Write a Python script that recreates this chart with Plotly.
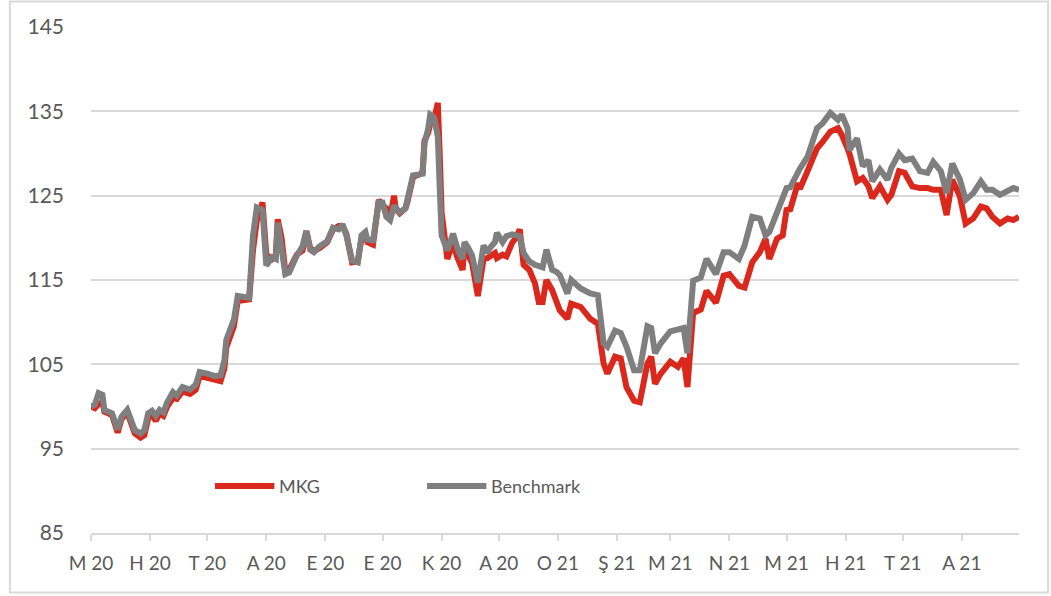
import plotly.graph_objects as go

dates = [
    "2020-05-01", "2020-05-03", "2020-05-05", "2020-05-07", "2020-05-08", "2020-05-12", "2020-05-15",
    "2020-05-17", "2020-05-20", "2020-05-22", "2020-05-24", "2020-05-27", "2020-05-29", "2020-05-31",
    "2020-06-02", "2020-06-04", "2020-06-06", "2020-06-08", "2020-06-10", "2020-06-13", "2020-06-15",
    "2020-06-18", "2020-06-22", "2020-06-25", "2020-06-27", "2020-07-01", "2020-07-05", "2020-07-08",
    "2020-07-10", "2020-07-11", "2020-07-15", "2020-07-17", "2020-07-23", "2020-07-25", "2020-07-27",
    "2020-07-30", "2020-08-01", "2020-08-04", "2020-08-06", "2020-08-07", "2020-08-09", "2020-08-11",
    "2020-08-13", "2020-08-15", "2020-08-17", "2020-08-20", "2020-08-22", "2020-08-24", "2020-08-26",
    "2020-08-29", "2020-09-02", "2020-09-05", "2020-09-08", "2020-09-10", "2020-09-12", "2020-09-15",
    "2020-09-18", "2020-09-20", "2020-09-22", "2020-09-23", "2020-09-26", "2020-09-29", "2020-10-01",
    "2020-10-03", "2020-10-05", "2020-10-07", "2020-10-08", "2020-10-10", "2020-10-13", "2020-10-14",
    "2020-10-17", "2020-10-22", "2020-10-23", "2020-10-25", "2020-10-26", "2020-10-28", "2020-10-30",
    "2020-10-31", "2020-11-01", "2020-11-04", "2020-11-07", "2020-11-09", "2020-11-10", "2020-11-12",
    "2020-11-13", "2020-11-15", "2020-11-17", "2020-11-20", "2020-11-23", "2020-11-25", "2020-11-26",
    "2020-11-29", "2020-11-30", "2020-12-03", "2020-12-05", "2020-12-08", "2020-12-10", "2020-12-12",
    "2020-12-14", "2020-12-17", "2020-12-20", "2020-12-22", "2020-12-24", "2020-12-26", "2020-12-29",
    "2020-12-31", "2021-01-02", "2021-01-06", "2021-01-08", "2021-01-13", "2021-01-18", "2021-01-22",
    "2021-01-25", "2021-01-27", "2021-01-31", "2021-02-03", "2021-02-06", "2021-02-10", "2021-02-13",
    "2021-02-17", "2021-02-19", "2021-02-21", "2021-02-24", "2021-03-01", "2021-03-05", "2021-03-08",
    "2021-03-10", "2021-03-13", "2021-03-17", "2021-03-20", "2021-03-25", "2021-03-29", "2021-04-01",
    "2021-04-06", "2021-04-09", "2021-04-13", "2021-04-17", "2021-04-20", "2021-04-22", "2021-04-26",
    "2021-04-29", "2021-05-01", "2021-05-03", "2021-05-07", "2021-05-08", "2021-05-12", "2021-05-17",
    "2021-05-20", "2021-05-24", "2021-05-28", "2021-05-30", "2021-06-02", "2021-06-03", "2021-06-07",
    "2021-06-10", "2021-06-13", "2021-06-15", "2021-06-19", "2021-06-23", "2021-06-25", "2021-06-29",
    "2021-07-02", "2021-07-06", "2021-07-10", "2021-07-14", "2021-07-17", "2021-07-21", "2021-07-24",
    "2021-07-27", "2021-07-31", "2021-08-03", "2021-08-07", "2021-08-11", "2021-08-14", "2021-08-17",
    "2021-08-21", "2021-08-25", "2021-08-28", "2021-08-31",
]

benchmark = [
    100.0, 100.2, 101.6, 101.4, 99.6, 99.2, 97.3,
    98.8, 99.6, 98.6, 97.2, 96.8, 97.2, 99.2,
    99.5, 98.9, 99.6, 99.3, 100.5, 101.7, 101.3,
    102.3, 102.0, 102.6, 104.1, 103.9, 103.6, 103.7,
    105.5, 107.9, 110.3, 113.1, 112.9, 120.2, 123.6,
    123.3, 116.7, 117.7, 117.5, 121.8, 119.0, 115.7,
    115.9, 117.0, 117.9, 119.0, 120.8, 118.6, 118.3,
    119.0, 119.6, 121.2, 121.0, 121.6, 120.3, 117.3,
    117.1, 120.3, 120.7, 119.8, 119.7, 124.2, 124.2,
    122.5, 122.1, 123.8, 123.5, 123.0, 123.5, 124.6,
    127.4, 127.6, 131.2, 133.0, 134.6, 134.3, 132.0,
    126.0, 120.3, 118.5, 120.5, 119.0, 118.3, 117.5,
    119.5, 118.8, 117.9, 114.7, 119.1, 118.2, 118.7,
    119.5, 120.6, 119.5, 120.2, 120.4, 120.3, 120.2,
    118.2, 117.2, 116.8, 116.6, 116.5, 118.6, 116.2,
    116.0, 115.6, 113.4, 115.0, 114.0, 113.4, 113.2,
    107.5, 107.1, 109.0, 108.7, 107.1, 104.3, 104.3,
    109.5, 109.3, 106.3, 107.5, 108.9, 109.1, 109.3,
    106.3, 114.9, 115.3, 117.5, 115.7, 118.3, 118.3,
    117.5, 119.1, 122.5, 122.3, 120.3, 120.7, 123.2,
    124.6, 125.9, 126.0, 127.9, 128.2, 129.6, 133.0,
    133.6, 134.8, 134.0, 134.6, 133.0, 130.4, 131.8,
    128.5, 129.2, 126.7, 128.1, 126.9, 128.3, 130.0,
    129.2, 129.4, 127.9, 127.7, 129.0, 127.9, 125.3,
    128.8, 126.9, 124.5, 125.3, 126.7, 125.7, 125.7,
    125.1, 125.5, 125.9, 125.7,
]

mkg = [
    100.0, 99.8, 100.3, 100.5, 99.4, 99.0, 96.9,
    98.5, 99.3, 98.2, 96.8, 96.3, 96.6, 98.6,
    99.0, 98.3, 99.2, 98.9, 100.0, 101.0, 100.9,
    101.8, 101.5, 102.0, 103.6, 103.4, 103.2, 103.0,
    104.5, 107.0, 109.5, 112.5, 112.7, 118.5, 122.0,
    124.2, 118.0, 117.5, 118.0, 122.2, 120.0, 116.0,
    116.2, 117.2, 118.0, 118.5, 120.8, 118.8, 118.4,
    118.8, 119.5, 121.0, 121.4, 121.4, 120.5, 117.1,
    117.2, 120.0, 120.5, 119.5, 119.2, 124.5, 123.8,
    123.5, 122.4, 125.0, 123.4, 122.9, 123.5, 124.2,
    127.2, 127.7, 131.5, 132.5, 133.5, 134.0, 136.0,
    130.0, 123.0, 117.5, 119.5, 117.8, 117.2, 116.2,
    118.8, 117.8, 117.0, 113.1, 117.5, 117.6, 117.8,
    118.2, 117.6, 118.0, 117.8, 119.4, 120.0, 121.0,
    116.8, 116.2, 114.6, 112.4, 112.4, 115.0, 113.8,
    112.5, 111.4, 110.4, 112.2, 111.8, 110.4, 109.8,
    105.1, 103.9, 105.9, 105.7, 102.3, 100.7, 100.5,
    105.1, 105.9, 102.7, 103.9, 105.3, 104.7, 105.7,
    102.3, 111.1, 111.5, 113.7, 112.3, 115.5, 115.7,
    114.3, 114.1, 117.1, 118.3, 119.9, 117.5, 119.9,
    120.3, 123.3, 123.4, 126.5, 125.8, 127.9, 130.6,
    131.4, 132.6, 133.0, 132.2, 130.6, 130.0, 126.7,
    127.1, 126.1, 124.7, 126.1, 124.5, 125.1, 127.9,
    127.7, 126.1, 125.9, 125.9, 125.7, 125.7, 122.7,
    126.9, 124.9, 121.7, 122.3, 123.7, 123.5, 122.5,
    121.7, 122.3, 122.1, 122.5,
]

tick_dates = [
    "2020-05-01", "2020-06-01", "2020-07-01", "2020-08-01", "2020-09-01", "2020-10-01",
    "2020-11-01", "2020-12-01", "2021-01-01", "2021-02-01", "2021-03-01", "2021-04-01",
    "2021-05-01", "2021-06-01", "2021-07-01", "2021-08-01",
]
tick_labels = [
    "M 20", "H 20", "T 20", "A 20", "E 20", "E 20", "K 20", "A 20",
    "O 21", "Ş 21", "M 21", "N 21", "M 21", "H 21", "T 21", "A 21",
]

RED = "#DA291C"
GRAY = "#7F7F7F"
GRID = "#D9D9D9"
TEXT = "#595959"
FONT = "Lato, 'Open Sans', sans-serif"

fig = go.Figure()
fig.add_trace(go.Scatter(x=dates, y=mkg, mode="lines", name="MKG",
                         line=dict(color=RED, width=6), showlegend=False))
fig.add_trace(go.Scatter(x=dates, y=benchmark, mode="lines", name="Benchmark",
                         line=dict(color=GRAY, width=6), showlegend=False))

# manual legend (line sample + label)
legend_items = [("MKG", RED, 0.1336), ("Benchmark", GRAY, 0.3621)]
for name, color, x0 in legend_items:
    fig.add_shape(type="line", xref="paper", yref="paper",
                  x0=x0, x1=x0 + 0.064, y0=0.093, y1=0.093,
                  line=dict(color=color, width=6))
    fig.add_annotation(xref="paper", yref="paper", x=x0 + 0.0665, y=0.093,
                       xanchor="left", yanchor="middle", showarrow=False,
                       text=name, font=dict(size=18, color=TEXT, family=FONT))

# chart border
fig.add_shape(type="rect", xref="paper", yref="paper",
              x0=-0.0874, x1=1.0313, y0=-0.1176, y1=1.0505,
              line=dict(color=GRID, width=2), layer="below")

fig.update_layout(
    width=1051, height=596,
    margin=dict(l=91, r=32, t=27, b=63),
    paper_bgcolor="white", plot_bgcolor="white",
    font=dict(family=FONT, color=TEXT),
    xaxis=dict(
        type="date", range=["2020-05-01", "2021-08-31"],
        tickmode="array", tickvals=tick_dates, ticktext=tick_labels,
        ticks="outside", ticklen=6, tickwidth=2, tickcolor=GRID,
        showgrid=False, showline=True, linecolor=GRID, linewidth=2,
        tickfont=dict(size=19, color=TEXT, family=FONT),
        ticklabelstandoff=6, zeroline=False,
    ),
    yaxis=dict(
        range=[85, 145], tick0=85, dtick=10,
        showgrid=True, gridcolor=GRID, gridwidth=2,
        zeroline=False, showline=False, ticks="",
        tickfont=dict(size=21, color=TEXT, family=FONT),
        ticklabelstandoff=26,
    ),
)

fig.write_html("out.html",
               config={"displayModeBar": False},
               post_script="document.body.style.margin='0';document.body.style.overflow='hidden';")
